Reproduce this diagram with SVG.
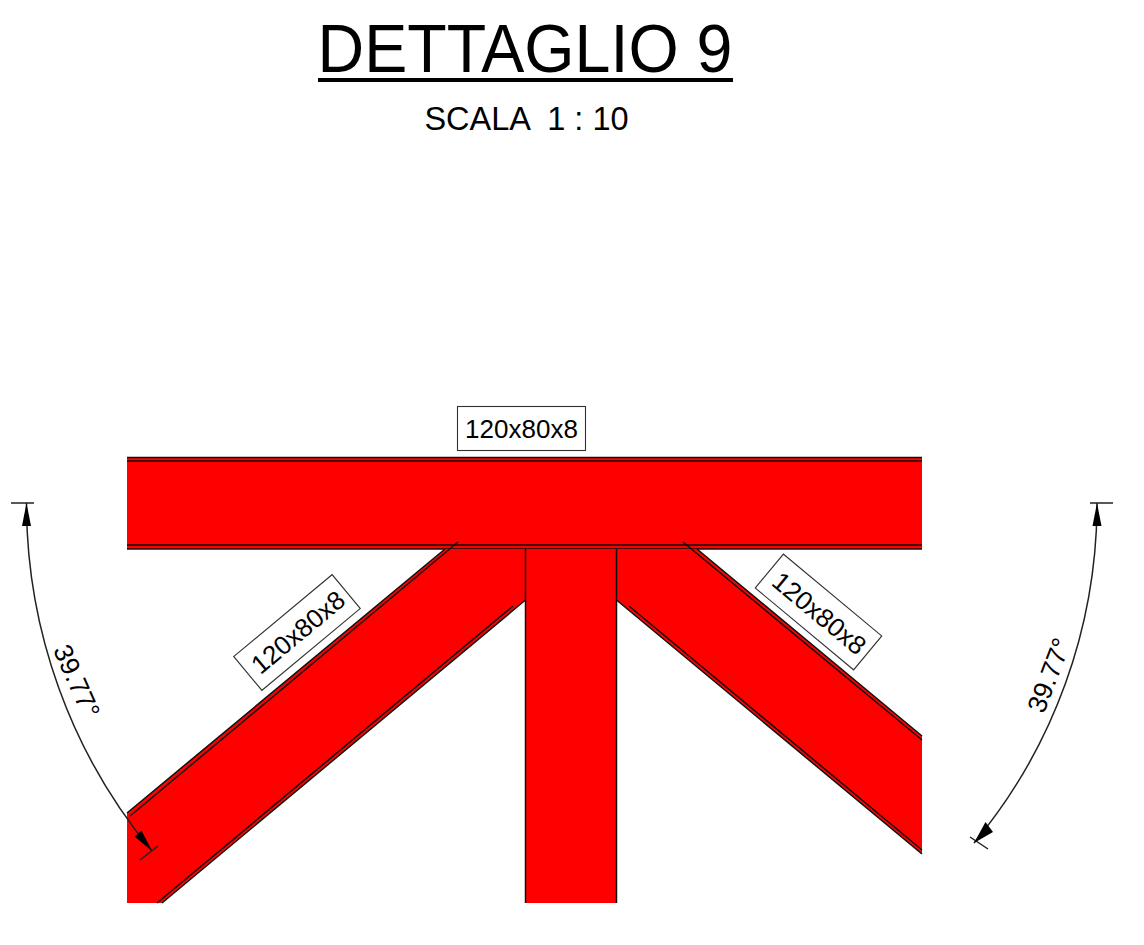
<svg xmlns="http://www.w3.org/2000/svg" width="1144" height="945" viewBox="0 0 1144 945">
<style>
text{font-family:"Liberation Sans",Arial,sans-serif;fill:#000}
.m{fill:#f00;stroke:none}
.e{fill:none;stroke:#111;stroke-width:1.5}
.d{fill:none;stroke:#222;stroke-width:1.5}
.b{fill:#fff;stroke:#333;stroke-width:1.1}
.l{font-size:26px;text-anchor:middle}
</style>
<rect width="1144" height="945" fill="#fff"/>
<g id="title">
<text x="525" y="72" font-size="68" text-anchor="middle" textLength="415" lengthAdjust="spacingAndGlyphs">DETTAGLIO 9</text>
<rect x="318" y="78" width="415" height="4" fill="#000"/>
<text x="526.500" y="129.500" font-size="32.500" text-anchor="middle" xml:space="preserve">SCALA  1 : 10</text>
</g>
<g id="beam-top">
<rect class="m" x="127" y="457" width="795" height="92"/>
<path class="e" d="M127,457.5H922M127,461H922M127,545H922M127,549H922"/>
</g>
<g id="beam-left">
<polygon class="m" points="127,813 445,549 525.5,549 525.5,600 162,903 127,903"/>
<path class="e" d="M127,813L445,549M130,816L458,542M525.5,600L162,903M513,606L157,903"/>
</g>
<g id="beam-right">
<polygon class="m" points="697,549 922,736 922,854 616.5,600 616.5,549"/>
<path class="e" d="M697,549L922,736M683,542L922,740M616.5,600L922,854M629,606L922,850"/>
</g>
<g id="beam-vertical">
<rect class="m" x="525.5" y="549" width="91" height="354"/>
<path class="e" d="M525.5,549V903M616.5,549V903"/>
</g>
<g id="label-top">
<rect class="b" x="457.5" y="406.5" width="128" height="44"/>
<text class="l" x="521.5" y="437.500">120x80x8</text>
</g>
<g id="label-left" transform="translate(297,632.5) rotate(-39.77)">
<rect class="b" x="-64" y="-22" width="128" height="44"/>
<text class="l" x="1" y="9.500">120x80x8</text>
</g>
<g id="label-right" transform="translate(818.5,612) rotate(39.77)">
<rect class="b" x="-64" y="-22" width="128" height="44"/>
<text class="l" x="1.500" y="9.500">120x80x8</text>
</g>
<g id="dim-left">
<path class="d" d="M11,503H34M140,860L158,846"/>
<path class="d" d="M26.5,503A544,544 0 0 0 152,851"/>
<polygon points="26.5,503 22,526 31,526" fill="#000"/>
<polygon points="152,851 141.5,830.5 134.5,836.5" fill="#000"/>
<text x="0" y="0" font-size="26.500" text-anchor="middle" transform="translate(68.500,685) rotate(66)">39.77°</text>
</g>
<g id="dim-right">
<path class="d" d="M1090,503H1113M970,837L988,849"/>
<path class="d" d="M1097,503A531,531 0 0 1 974,843"/>
<polygon points="1097,503 1092.500,526 1101.500,526" fill="#000"/>
<polygon points="974,843 993,832 985.500,822" fill="#000"/>
<text x="0" y="0" font-size="26.500" text-anchor="middle" transform="translate(1057.500,678.500) rotate(-69)">39.77°</text>
</g>
</svg>
